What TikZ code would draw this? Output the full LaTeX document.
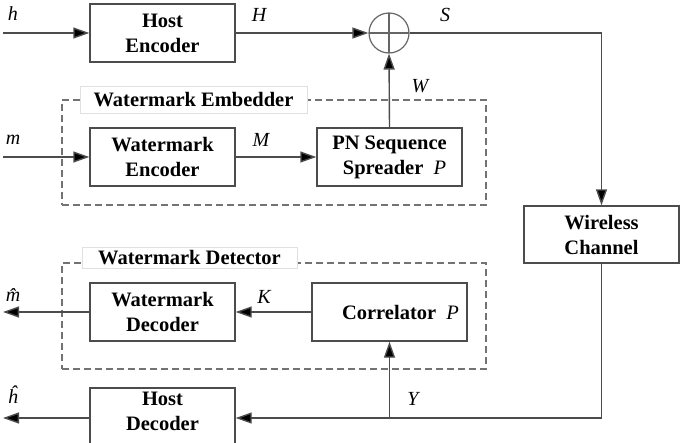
\documentclass[tikz,border=0pt]{standalone}
\usepackage{fontspec}
\setmainfont{Liberation Serif}
\usetikzlibrary{arrows.meta}
\begin{document}
\begin{tikzpicture}[x=1pt,y=-1pt,
  blk/.style={draw=black!70, line width=1.4pt, minimum width=145pt, minimum height=58pt,
    align=center, font=\fontsize{20.5}{25}\selectfont\bfseries, inner sep=0pt},
  dbox/.style={draw=black!55, line width=1.4pt, dash pattern=on 7pt off 4pt, inner sep=0pt},
  lbl/.style={draw=black!12, fill=white, line width=0.8pt, inner sep=0pt,
    font=\fontsize{20.5}{25}\selectfont\bfseries},
  vlab/.style={font=\fontsize{20}{22}\selectfont\itshape, inner sep=0pt},
  arr/.style={draw=black!70, line width=1.4pt, -{Triangle[length=16pt,width=11pt,fill=black]}},
]
\useasboundingbox (0,0) rectangle (683,442);
\clip (0,0) rectangle (683,442);

% dashed groups
\node[dbox, minimum width=424pt, minimum height=105pt] (emb) at (274,152.5) {};
\node[dbox, minimum width=424pt, minimum height=106pt] (det) at (274,316) {};
\node[lbl, minimum width=227pt, minimum height=27pt] (embl) at (193.5,99.5) {Watermark Embedder};
\node[lbl, minimum width=215pt, minimum height=21pt] (detl) at (189.5,258) {Watermark Detector};

% blocks
\node[blk] (henc) at (162.5,33) {Host\\Encoder};
\node[blk] (wenc) at (162.5,157) {Watermark\\Encoder};
\node[blk] (pn) at (389.5,157) {PN Sequence\\\hspace*{10pt}Spreader~~{\mdseries\itshape P}};
\node[draw=black!60, line width=1.2pt, circle, minimum size=40pt, inner sep=0pt,
  path picture={\draw[black!60, line width=1.2pt]
    (path picture bounding box.north) -- (path picture bounding box.south)
    (path picture bounding box.west) -- (path picture bounding box.east);}] (sum) at (389,33) {};
\node[blk, minimum width=155pt, minimum height=57pt] (chan) at (601.5,234.5) {Wireless\\Channel};
\node[blk] (wdec) at (162.5,312) {Watermark\\Decoder};
\node[blk, minimum width=155pt] (corr) at (389.5,312) {\hspace*{22pt}Correlator~~{\mdseries\itshape P}};
\node[blk, minimum height=60pt, text depth=14pt] (hdec) at (162.5,418) {Host\\Decoder};

% free ends
\coordinate (hin) at (3,33);
\coordinate (min) at (3,157);
\coordinate (mout) at (3,312);
\coordinate (hout) at (3,418);
\coordinate (ytap) at (389.5,418);

% connectors
\draw[arr] (hin) -- (henc.west);
\draw[arr] (henc.east) -- (sum.west);
\draw[arr] (min) -- (wenc.west);
\draw[arr] (wenc.east) -- (pn.west);
\draw[arr] (pn.north) -- (sum.south);
\draw[arr] (sum.east) -| (chan.north);
\draw[arr] (chan.south) |- (hdec.east);
\draw[arr] (ytap) -- (corr.south);
\draw[arr] (corr.west) -- (wdec.east);
\draw[arr] (wdec.west) -- (mout);
\draw[arr] (hdec.west) -- (hout);

% signal labels
\node[vlab] (lh) at (13,14) {h};
\node[vlab] (lH) at (259,15) {H};
\node[vlab] (lS) at (445,15) {S};
\node[vlab] (lm) at (13,140) {m};
\node[vlab] (lM) at (261,140) {M};
\node[vlab] (lW) at (420,86) {W};
\node[vlab] (lK) at (264,297) {K};
\node[vlab] (lmh) at (13,295) {\^m};
\node[vlab] (lhh) at (13,395) {\^h};
\node[vlab] (lY) at (413,399) {Y};
\end{tikzpicture}
\end{document}
